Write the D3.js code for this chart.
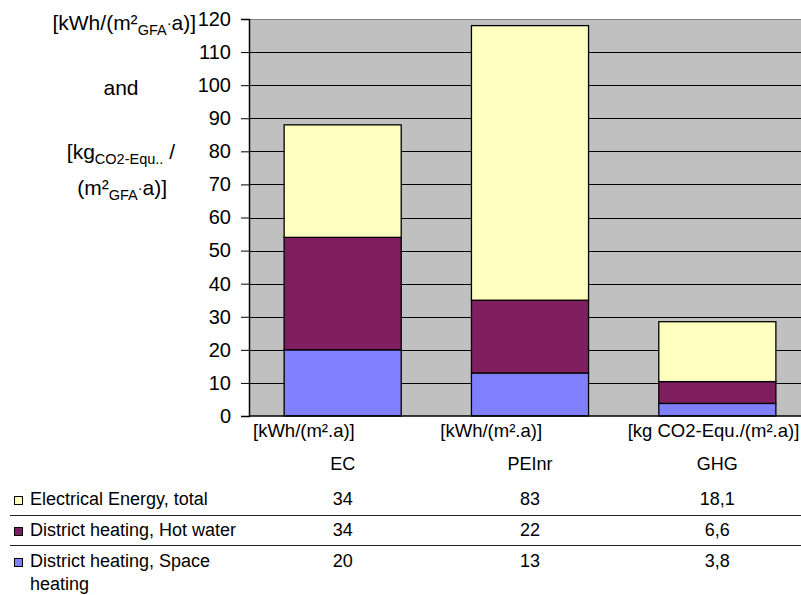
<!DOCTYPE html>
<html><head><meta charset="utf-8">
<script src="https://cdn.jsdelivr.net/npm/d3@7"></script>
<style>body{margin:0;background:#fff}svg{display:block;font-family:"Liberation Sans",Arial,sans-serif}</style>
</head><body>
<svg id="c" width="801" height="595"></svg>
<script>
const categories = ["EC", "PEInr", "GHG"];
const units = ["[kWh/(m².a)]", "[kWh/(m².a)]", "[kg CO2-Equ./(m².a)]"];
const seriesNames = ["Electrical Energy, total", "District heating, Hot water", "District heating, Space heating"];
const spaceHeating = [20, 13, 3.8];
const hotWater = [34, 22, 6.6];
const electrical = [34, 83, 18.1];
const tableLabels = [["34","83","18,1"],["34","22","6,6"],["20","13","3,8"]];
const yTicks = [0,10,20,30,40,50,60,70,80,90,100,110,120];
const colors = {space:"#8080FF", hot:"#7F1F5F", elec:"#FFFFC0"};

(function(){
const svg = d3.select("#c");
const pL = 249, pR = 811, pT = 19, pB = 416;
const x = d3.scaleBand().domain(categories).range([pL, pR]).paddingInner(0.375).paddingOuter(0.1875);
const y = d3.scaleLinear().domain([0,120]).range([pB, pT]);
const slot = (pR-pL)/categories.length;

svg.append("rect").attr("x", pL).attr("y", pT).attr("width", pR-pL).attr("height", pB-pT).attr("fill", "#C0C0C0");
svg.append("line").attr("x1", pL).attr("x2", pR).attr("y1", pT+0.5).attr("y2", pT+0.5).attr("stroke", "#808080");
svg.append("g").selectAll("line").data(yTicks.filter(d=>d>0 && d<120)).join("line")
  .attr("x1", pL).attr("x2", pR).attr("y1", d=>Math.round(y(d))+0.5).attr("y2", d=>Math.round(y(d))+0.5)
  .attr("stroke", "#000").attr("stroke-width", 1);

const rows = categories.map((c,i)=>({c, s:spaceHeating[i], h:hotWater[i], e:electrical[i]}));
const stack = d3.stack().keys(["s","h","e"])(rows);
const fills = [colors.space, colors.hot, colors.elec];
stack.forEach((layer, li) => {
  svg.append("g").selectAll("rect").data(layer).join("rect")
    .attr("x", d=>x(d.data.c)).attr("width", x.bandwidth())
    .attr("y", d=>y(d[1])).attr("height", d=>y(d[0])-y(d[1]))
    .attr("fill", fills[li]).attr("stroke", "#000").attr("stroke-width", 1.3);
});

const ya = svg.append("g").attr("transform", `translate(${pL},0)`)
  .call(d3.axisLeft(y).tickValues(yTicks).tickSize(8).tickPadding(10).tickFormat(d3.format("d")));
ya.select(".domain").attr("stroke", "#000").attr("stroke-width", 1.5);
ya.selectAll(".tick line").attr("stroke", "#000");
ya.selectAll("text").attr("font-size", 20).attr("font-family", '"Liberation Sans",Arial,sans-serif').attr("fill", "#000");
svg.append("line").attr("x1", pL).attr("x2", pR).attr("y1", pB).attr("y2", pB).attr("stroke", "#000").attr("stroke-width", 1.5);

svg.append("g").selectAll("text").data(categories).join("text")
  .attr("x", (d,i)=>pL + i*slot + 4).attr("y", 437)
  .attr("font-size", 18.5).text((d,i)=>units[i]);
svg.append("g").selectAll("text").data(categories).join("text")
  .attr("x", d=>x(d)+x.bandwidth()/2).attr("y", 470).attr("text-anchor", "middle")
  .attr("font-size", 18).text(d=>d);

const yt = svg.append("g").attr("font-size", 21);
function gfaLine(t){
  t.append("tspan").attr("font-size", 14.5).attr("dy", 5).text("GFA");
  t.append("tspan").attr("font-size", 14.5).attr("dy", -7).text("·");
  t.append("tspan").attr("dy", 2).text("a)]");
}
{
  const t = yt.append("text").attr("x", 196).attr("y", 30).attr("text-anchor", "end");
  t.append("tspan").text("[kWh/(m²");
  gfaLine(t);
}
yt.append("text").attr("x", 121).attr("y", 95).attr("text-anchor", "middle").text("and");
{
  const t = yt.append("text").attr("x", 175).attr("y", 159).attr("text-anchor", "end");
  t.append("tspan").text("[kg");
  t.append("tspan").attr("font-size", 14.5).attr("dy", 5).text("CO2-Equ..");
  t.append("tspan").attr("dy", -5).text(" /");
}
{
  const t = yt.append("text").attr("x", 167).attr("y", 195).attr("text-anchor", "end");
  t.append("tspan").text("(m²");
  gfaLine(t);
}

const rowY = [505, 536, 567];
const legendFills = [colors.elec, colors.hot, colors.space];
const tbl = svg.append("g").attr("font-size", 18);
seriesNames.forEach((n,i)=>{
  tbl.append("rect").attr("x", 14.5).attr("y", rowY[i]-8.5).attr("width", 8).attr("height", 8)
    .attr("fill", legendFills[i]).attr("stroke", "#000").attr("stroke-width", 1);
  if (i===2) {
    tbl.append("text").attr("x", 30).attr("y", rowY[i]).text("District heating, Space");
    tbl.append("text").attr("x", 30).attr("y", rowY[i]+23).text("heating");
  } else {
    tbl.append("text").attr("x", 30).attr("y", rowY[i]).text(n);
  }
  categories.forEach((c,j)=>{
    tbl.append("text").attr("x", x(c)+x.bandwidth()/2).attr("y", rowY[i]).attr("text-anchor", "middle").text(tableLabels[i][j]);
  });
});
[515.5, 545.5].forEach(yy=>{
  svg.append("line").attr("x1", 10).attr("x2", 801).attr("y1", yy).attr("y2", yy).attr("stroke", "#202020").attr("stroke-width", 1);
});
})();
</script>
</body></html>
